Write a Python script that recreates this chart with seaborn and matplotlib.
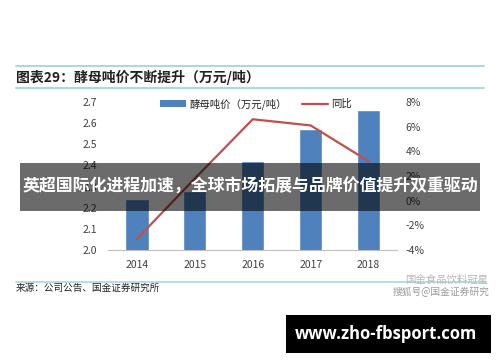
import matplotlib
matplotlib.use("Agg")
import matplotlib.pyplot as plt
import seaborn as sns
import numpy as np
import pandas as pd
from matplotlib.patches import Rectangle, Patch
from matplotlib.lines import Line2D

# ---- data ----
years = ["2014", "2015", "2016", "2017", "2018"]
price = [2.24, 2.28, 2.42, 2.57, 2.66]          # 酵母吨价（万元/吨）
yoy = [-3.1, 1.8, 6.6, 6.1, 3.2]                  # 同比 (%)
left_ticks = [2.0, 2.1, 2.2, 2.3, 2.4, 2.5, 2.6, 2.7]
right_ticks = [-4, -2, 0, 2, 4, 6, 8]

title = "图表29：酵母吨价不断提升（万元/吨）"
source = "来源：公司公告、国金证券研究所"
banner = "英超国际化进程加速，全球市场拓展与品牌价值提升双重驱动"
site = "www.zho-fbsport.com"
bar_label = "酵母吨价（万元/吨）"
line_label = "同比"

sns.set_style("white")
plt.rcParams["font.family"] = ["Noto Sans CJK SC", "DejaVu Sans"]

BLUE = "#4f81bd"
RED = "#c0504d"
TEAL = "#a9d8e0"
GRAY_TXT = "#404040"

fig = plt.figure(figsize=(5, 3.62), dpi=100)
W, H = 500, 362
ax = fig.add_axes([108 / W, 1 - 250 / H, 289.5 / W, 148 / H])

df = pd.DataFrame({"year": years, "price": price})
sns.barplot(data=df, x="year", y="price", color=BLUE, width=0.4,
            saturation=1, ax=ax, zorder=2)
ax.set_ylim(2.0, 2.7)
ax.set_xlim(-0.5, 4.5)
ax.set_yticks(left_ticks)
ax.set_yticklabels([f"{v:.1f}" for v in left_ticks])
ax.set_xlabel("")
ax.set_ylabel("")

ax2 = ax.twinx()
sns.lineplot(x=np.arange(len(years)), y=yoy, color=RED, linewidth=1.6, ax=ax2)
ax2.set_ylim(-4, 8)
ax2.set_yticks(right_ticks)
ax2.set_yticklabels([f"{v}%" for v in right_ticks])
ax2.set_ylabel("")
ax2.set_xlim(-0.5, 4.5)

for a in (ax, ax2):
    for s in ("top", "left", "right", "bottom"):
        a.spines[s].set_visible(False)
    a.tick_params(length=0, labelsize=7.5, colors=GRAY_TXT)
    a.grid(False)
ax.spines["bottom"].set_visible(True)
ax.spines["bottom"].set_color("#bfbfbf")
ax.spines["bottom"].set_linewidth(0.8)
ax.tick_params(axis="y", pad=8)
ax.tick_params(axis="x", pad=7)
ax2.tick_params(axis="y", pad=6)

handles = [Patch(facecolor=BLUE, edgecolor="none"),
           Line2D([0], [0], color=RED, lw=1.6)]
fig.legend(handles, [bar_label, line_label], loc="center",
           bbox_to_anchor=(256 / W, 1 - 104 / H), ncol=2, frameon=False,
           fontsize=7.5, handlelength=2.5, handleheight=0.6,
           columnspacing=1.4, handletextpad=0.35, labelcolor="#222222")

# header / footer decorations
fig.add_artist(Line2D([16 / W, 484 / W], [1 - 66 / H] * 2, color=TEAL, lw=1.4))
fig.add_artist(Line2D([16 / W, 484 / W], [1 - 88 / H] * 2, color=TEAL, lw=1.4))
fig.add_artist(Line2D([16 / W, 486 / W], [1 - 282 / H] * 2, color=TEAL, lw=1.2))
fig.text(16 / W, 1 - 77 / H, title, fontsize=10, fontweight="bold",
         color="#222222", va="center", ha="left")
fig.text(16 / W, 1 - 288 / H, source, fontsize=6.9, color="#222222",
         va="center", ha="left")
fig.text(488 / W, 1 - 280 / H, "国金食品饮料冠星", fontsize=7.5, color="#b8b8b8",
         va="center", ha="right")
fig.text(490 / W, 1 - 292 / H, "搜狐号@国金证券研究", fontsize=7, color="#9a9a9a",
         va="center", ha="right")

# overlay banner
fig.add_artist(Rectangle((20 / W, 1 - 211 / H), 460 / W, 48 / H,
                         transform=fig.transFigure, facecolor="black",
                         alpha=0.58, edgecolor="none", zorder=10))
fig.text(250 / W, 1 - 187 / H, banner, fontsize=12.2, fontweight="bold",
         color="white", ha="center", va="center", zorder=11)

# site watermark
fig.add_artist(Rectangle((286 / W, 1 - 353 / H), 205 / W, 38 / H,
                         transform=fig.transFigure, facecolor="black",
                         edgecolor="none", zorder=10))
fig.text(386 / W, 1 - 334 / H, site, fontsize=12, fontweight="bold",
         family="Open Sans", color="white", ha="center", va="center", zorder=11)

fig.savefig("out.png", dpi=100)
